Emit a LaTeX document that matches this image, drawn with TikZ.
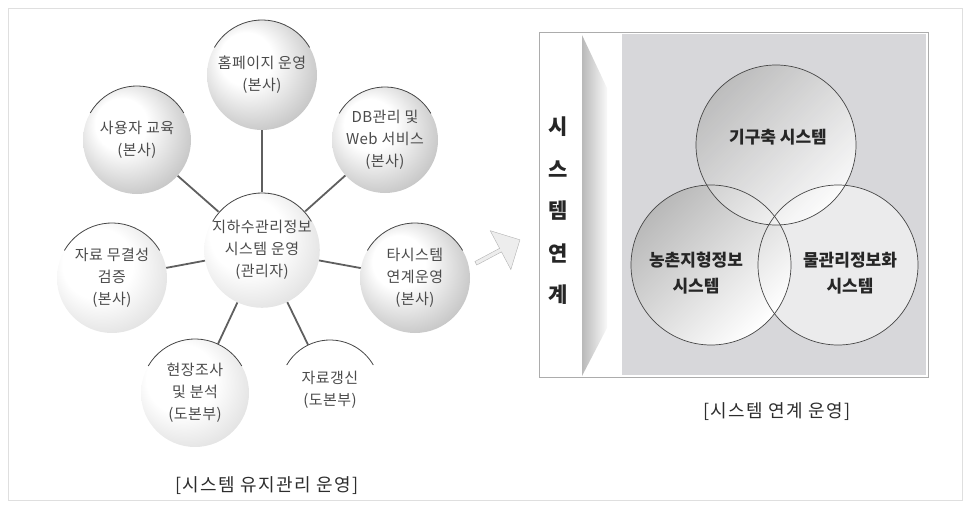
\documentclass[tikz,border=0pt]{standalone}
\usepackage{fontspec}
\setmainfont{Noto Sans CJK KR}
\usetikzlibrary{shapes.arrows,positioning}
\definecolor{inkGray}{RGB}{75,75,75}
\definecolor{linkGray}{RGB}{95,95,95}
\definecolor{panelGray}{RGB}{215,215,218}
\pgfdeclareradialshading{sphere}{\pgfpoint{-10bp}{10bp}}{color(0bp)=(white); color(12bp)=(white); color(30bp)=(gray!45); color(44bp)=(gray!85)}
\pgfdeclareradialshading{softsphere}{\pgfpoint{-10bp}{10bp}}{color(0bp)=(white); color(16bp)=(white); color(34bp)=(gray!28); color(46bp)=(gray!50)}
\tikzset{
  bubble/.style={circle, inner sep=0pt, align=center,
    text=inkGray, font=\fontsize{15}{22}\selectfont\addfontfeature{LetterSpace=3}},
  link/.style={draw=linkGray, line width=1.8pt},
  rim/.style={draw=gray!55!black, line width=0.8pt},
  cup/.style={top color=gray!55, middle color=white, bottom color=white, shading angle=45},
  vennrim/.style={draw=gray!55!black, line width=0.7pt},
  vennlabel/.style={align=center, font=\fontsize{17}{26}\selectfont\bfseries, text=black!85},
  caption/.style={font=\fontsize{18}{20}\selectfont\addfontfeature{LetterSpace=8}, text=gray!35!black},
}
\begin{document}
\begin{tikzpicture}[x=1pt,y=-1pt]
  \useasboundingbox (0,0) rectangle (969,508);
  \draw[gray!25] (8,8) rectangle (962,500);

  % system maintenance
  \node[bubble, minimum size=110, shading=sphere] (home) at (262,75) {홈페이지 운영\\(본사)};
  \node[bubble, minimum size=108, shading=sphere] (edu) at (137,140) {사용자 교육\\(본사)};
  \node[bubble, minimum size=106, shading=sphere] (db) at (385,140) {DB관리 및\\Web 서비스\\(본사)};
  \node[bubble, minimum size=110, shading=softsphere] (valid) at (112,278) {자료 무결성\\검증\\(본사)};
  \node[bubble, minimum size=110, shading=sphere] (ext) at (415,278) {타시스템\\연계운영\\(본사)};
  \node[bubble, minimum size=108, shading=softsphere] (survey) at (195,393) {현장조사\\및 분석\\(도본부)};
  \node[bubble, minimum size=100, fill=white] (update) at (330,390) {자료갱신\\(도본부)};
  \node[bubble, minimum size=114, shading=softsphere] (hub) at (262,250) {지하수관리정보\\시스템 운영\\(관리자)};
  \foreach \n/\r in {home/55, edu/54, db/53, valid/55, ext/55, survey/54, update/50, hub/57}
    \draw[rim] (\n.center) ++(210:\r) arc[start angle=210, end angle=330, radius=\r];
  \foreach \n in {home, edu, db, valid, ext, survey, update}
    \draw[link] (hub) -- (\n);
  \node[caption] (capL) at (267,486) {[시스템 유지관리 운영]};

  \node[single arrow, draw=gray!60, fill=gray!14, minimum height=50, minimum width=44,
    single arrow head extend=2, inner sep=0pt, rotate=28] (go) at (497,252) {};

  % system linkage
  \draw[gray!65, line width=0.8pt] (539,32) rectangle (928,377);
  \fill[panelGray] (622,34) rectangle (926,375);
  \shade[left color=gray!55, right color=gray!5] (582,35) -- (607,88) -- (607,328) -- (582,376) -- cycle;
  \foreach \ch [count=\i] in {시,스,템,연,계}
    \node[font=\fontsize{21}{21}\selectfont\bfseries, text=black!85] (v\i) at (558,85+42*\i) {\ch};

  \coordinate (water) at (838,265);
  \coordinate (rural) at (711,265);
  \coordinate (built) at (776,145);
  \fill[white!50!panelGray] (water) circle[radius=80];
  \shade[cup] (rural) circle[radius=80];
  \shade[cup, fill opacity=0.85] (built) circle[radius=80];
  \foreach \n in {water, rural, built}
    \draw[vennrim] (\n) circle[radius=80];
  \node[vennlabel] (builtL) at (778,137) {기구축 시스템};
  \node[vennlabel] (ruralL) at (696,273) {농촌지형정보\\시스템};
  \node[vennlabel] (waterL) at (850,273) {물관리정보화\\시스템};
  \node[caption] (capR) at (777,412) {[시스템 연계 운영]};
\end{tikzpicture}
\end{document}
